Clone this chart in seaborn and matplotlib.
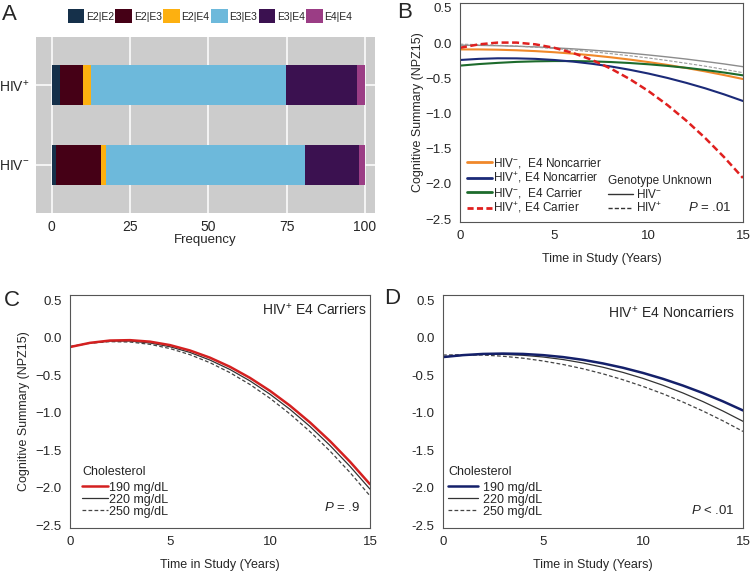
import pandas as pd
import matplotlib.pyplot as plt
import seaborn as sns
from matplotlib.lines import Line2D
from matplotlib.patches import Patch

sns.set_style('white')
plt.rcParams['font.family'] = ['Liberation Sans', 'DejaVu Sans']
plt.rcParams['mathtext.fontset'] = 'custom'
plt.rcParams['mathtext.rm'] = 'Liberation Sans'
plt.rcParams['mathtext.it'] = 'Liberation Sans:italic'
plt.rcParams['mathtext.bf'] = 'Liberation Sans:bold'

# ---- Panel A: genotype frequencies ----
groups = ['HIV$^{+}$', 'HIV$^{-}$']
genotypes = ['E2|E2', 'E2|E3', 'E2|E4', 'E3|E3', 'E3|E4', 'E4|E4']
freq_hiv_pos = [2.7, 7.3, 2.7, 62.1, 22.5, 2.7]
freq_hiv_neg = [1.4, 14.2, 1.6, 63.5, 17.3, 2.0]
geno_colors = ['#15304a', '#450016', '#fdb010', '#6db9db', '#3b1150', '#9b3d85']

# ---- Panel B: trajectories by HIV / E4 status ----
years = list(range(16))
b_neg_noncarrier = [-0.090, -0.090, -0.094, -0.102, -0.114, -0.130, -0.150, -0.174,
                    -0.202, -0.234, -0.270, -0.310, -0.354, -0.402, -0.454, -0.510]
b_pos_noncarrier = [-0.240, -0.224, -0.216, -0.217, -0.224, -0.240, -0.263, -0.294,
                    -0.332, -0.379, -0.433, -0.495, -0.565, -0.642, -0.728, -0.822]
b_neg_carrier = [-0.320, -0.298, -0.281, -0.267, -0.259, -0.255, -0.255, -0.260,
                 -0.269, -0.283, -0.301, -0.324, -0.351, -0.382, -0.418, -0.458]
b_pos_carrier = [-0.067, -0.018, 0.007, 0.007, -0.018, -0.067, -0.141, -0.239,
                 -0.363, -0.511, -0.683, -0.880, -1.102, -1.348, -1.619, -1.915]
b_unknown_neg = [-0.030, -0.032, -0.037, -0.045, -0.054, -0.067, -0.082, -0.100,
                 -0.120, -0.143, -0.169, -0.197, -0.227, -0.261, -0.296, -0.335]
b_unknown_pos = [-0.015, -0.022, -0.031, -0.043, -0.059, -0.077, -0.099, -0.123,
                 -0.150, -0.180, -0.212, -0.248, -0.287, -0.328, -0.373, -0.420]

# ---- Panel C: HIV+ E4 carriers by cholesterol ----
c_chol190 = [-0.123, -0.067, -0.036, -0.031, -0.051, -0.097, -0.169, -0.265,
             -0.387, -0.535, -0.708, -0.906, -1.130, -1.379, -1.654, -1.955]
c_chol220 = [-0.119, -0.069, -0.043, -0.043, -0.069, -0.119, -0.195, -0.297,
             -0.423, -0.575, -0.753, -0.955, -1.183, -1.437, -1.716, -2.020]
c_chol250 = [-0.118, -0.072, -0.051, -0.056, -0.087, -0.143, -0.225, -0.332,
             -0.465, -0.623, -0.807, -1.017, -1.252, -1.512, -1.798, -2.110]

# ---- Panel D: HIV+ E4 noncarriers by cholesterol ----
d_chol190 = [-0.257, -0.231, -0.215, -0.210, -0.215, -0.231, -0.257, -0.294,
             -0.342, -0.400, -0.469, -0.548, -0.638, -0.738, -0.849, -0.970]
d_chol220 = [-0.256, -0.233, -0.221, -0.221, -0.233, -0.256, -0.290, -0.336,
             -0.393, -0.462, -0.542, -0.634, -0.737, -0.852, -0.978, -1.115]
d_chol250 = [-0.230, -0.225, -0.230, -0.246, -0.272, -0.309, -0.356, -0.413,
             -0.481, -0.560, -0.649, -0.748, -0.858, -0.978, -1.109, -1.250]

chol_labels = ['190 mg/dL', '220 mg/dL', '250 mg/dL']
y_ticks = [0.5, 0.0, -0.5, -1.0, -1.5, -2.0, -2.5]
y_labels_minus = ['0.5', '0.0', '\u22120.5', '\u22121.0', '\u22121.5', '\u22122.0', '\u22122.5']
y_labels_hyphen = ['0.5', '0.0', '-0.5', '-1.0', '-1.5', '-2.0', '-2.5']
x_ticks = [0, 5, 10, 15]

fig = plt.figure(figsize=(7.5, 5.75), dpi=100)
axA = fig.add_axes([0.048, 0.6296, 0.452, 0.306])
axB = fig.add_axes([0.6133, 0.6139, 0.3773, 0.381])
axC = fig.add_axes([0.0933, 0.0817, 0.4, 0.405])
axD = fig.add_axes([0.5907, 0.0817, 0.4, 0.405])

# ---------------- Panel A ----------------
rows = []
for g, vals in zip(groups, [freq_hiv_pos, freq_hiv_neg]):
    cum = 0
    for geno, v in zip(genotypes, vals):
        cum += v
        rows.append({'group': g, 'genotype': geno, 'cum': cum})
dfA = pd.DataFrame(rows)

# stacked bars: draw cumulative totals from the outermost segment inwards
for geno, col in reversed(list(zip(genotypes, geno_colors))):
    sub = dfA[dfA['genotype'] == geno]
    sns.barplot(data=sub, x='cum', y='group', order=groups, color=col,
                saturation=1, width=0.5, linewidth=0, ax=axA)

axA.set_facecolor('#cccccc')
axA.set_xlim(-5.0, 103.2)
axA.set_ylim(1.6, -0.6)
axA.set_xticks([0, 25, 50, 75, 100])
axA.grid(True, color='white', lw=1.1)
axA.set_axisbelow(True)
for s in axA.spines.values():
    s.set_visible(False)
axA.tick_params(axis='both', length=3, width=0.8, color='#555555', labelsize=10, pad=2)
axA.set_xlabel('Frequency', fontsize=9.5, labelpad=0)
axA.set_ylabel('')

handlesA = [Patch(facecolor=c, edgecolor='none', label=g) for g, c in zip(genotypes, geno_colors)]
fig.legend(handles=handlesA, loc='center', bbox_to_anchor=(0.28, 0.972), ncol=6,
           frameon=False, fontsize=7.5, handlelength=1.6, handleheight=1.6,
           handletextpad=0.15, columnspacing=0.15, borderpad=0)


def style_line_axes(ax, ylabels):
    ax.set_xlim(0, 15)
    ax.set_ylim(-2.54, 0.57)
    ax.set_xticks(x_ticks)
    ax.set_yticks(y_ticks)
    ax.set_yticklabels(ylabels)
    for s in ax.spines.values():
        s.set_color('#555555')
        s.set_linewidth(0.8)
    ax.tick_params(axis='both', direction='out', length=3, width=0.8,
                   color='#555555', labelsize=9.5, pad=3)
    ax.set_xlabel('Time in Study (Years)', fontsize=9, labelpad=8)


def draw(ax, y, color, lw, dashes=None):
    sns.lineplot(x=years, y=y, color=color, lw=lw, ax=ax, legend=False)
    line = ax.lines[-1]
    if dashes is not None:
        line.set_dashes(dashes)
    return line


def chol_legend(ax, main_color, x0, textpad, hlen):
    hs = [Line2D([], [], color=main_color, lw=1.8, label=chol_labels[0]),
          Line2D([], [], color='#333333', lw=0.9, label=chol_labels[1]),
          Line2D([], [], color='#444444', lw=0.9, dashes=(3, 1.8), label=chol_labels[2])]
    ax.legend(handles=hs, loc='lower left', bbox_to_anchor=(x0, 0.045), frameon=False,
              fontsize=9, handlelength=hlen, handletextpad=textpad, labelspacing=0.0,
              borderpad=0, borderaxespad=0)
    ax.text(x0, 0.24, 'Cholesterol', transform=ax.transAxes, ha='left', va='center',
            fontsize=9)


# ---------------- Panel B ----------------
draw(axB, b_unknown_neg, '#8c8c8c', 1.0)
draw(axB, b_unknown_pos, '#9a9a9a', 0.8, (3, 1.5))
draw(axB, b_neg_noncarrier, '#f0882a', 1.5)
draw(axB, b_neg_carrier, '#1d6b2c', 1.5)
draw(axB, b_pos_noncarrier, '#1b2a78', 1.5)
draw(axB, b_pos_carrier, '#e0201f', 1.8, (2.8, 1.4))
style_line_axes(axB, y_labels_minus)
axB.set_ylabel('Cognitive Summary (NPZ15)', fontsize=9, labelpad=1)

hB1 = [Line2D([], [], color='#f0882a', lw=2, label='HIV$^{-}$,  E4 Noncarrier'),
       Line2D([], [], color='#1b2a78', lw=2, label='HIV$^{+}$, E4 Noncarrier'),
       Line2D([], [], color='#1d6b2c', lw=2, label='HIV$^{-}$,  E4 Carrier'),
       Line2D([], [], color='#e0201f', lw=2, dashes=(2.2, 1.2), label='HIV$^{+}$, E4 Carrier')]
legB1 = axB.legend(handles=hB1, loc='lower left', bbox_to_anchor=(0.025, 0.03),
                   frameon=False, fontsize=8.5, handlelength=2.1, handletextpad=0.1,
                   labelspacing=0.05, borderpad=0, borderaxespad=0)
axB.add_artist(legB1)
hB2 = [Line2D([], [], color='#333333', lw=1.0, label='HIV$^{-}$'),
       Line2D([], [], color='#333333', lw=1.0, dashes=(3, 1.5), label='HIV$^{+}$')]
axB.legend(handles=hB2, title='Genotype Unknown', title_fontsize=8.5, alignment='left',
           loc='lower left', bbox_to_anchor=(0.523, 0.03), frameon=False, fontsize=8.5,
           handlelength=2.1, handletextpad=0.3, labelspacing=0.05, borderpad=0,
           borderaxespad=0)
axB.text(0.961, 0.068, '$\\it{P}$ = .01', transform=axB.transAxes, ha='right',
         va='center', fontsize=9.5)

# ---------------- Panel C ----------------
draw(axC, c_chol250, '#444444', 0.9, (3, 1.8))
draw(axC, c_chol220, '#333333', 0.9)
draw(axC, c_chol190, '#d42020', 1.8)
style_line_axes(axC, y_labels_minus)
axC.set_ylabel('Cognitive Summary (NPZ15)', fontsize=9, labelpad=4)
chol_legend(axC, '#d42020', 0.04, 0.05, 2.1)
axC.text(0.99, 0.94, 'HIV$^{+}$ E4 Carriers', transform=axC.transAxes, ha='right',
         va='center', fontsize=10)
axC.text(0.967, 0.086, '$\\it{P}$ = .9', transform=axC.transAxes, ha='right',
         va='center', fontsize=9.5)

# ---------------- Panel D ----------------
draw(axD, d_chol250, '#444444', 0.9, (3, 1.8))
draw(axD, d_chol220, '#333333', 0.9)
draw(axD, d_chol190, '#14206a', 1.8)
style_line_axes(axD, y_labels_hyphen)
axD.set_ylabel('')
chol_legend(axD, '#14206a', 0.017, 0.4, 2.4)
axD.text(0.973, 0.927, 'HIV$^{+}$ E4 Noncarriers', transform=axD.transAxes, ha='right',
         va='center', fontsize=10)
axD.text(0.973, 0.077, '$\\it{P}$ < .01', transform=axD.transAxes, ha='right',
         va='center', fontsize=9.5)

# panel letters
for letter, x, y in [('A', 0.013, 0.975), ('B', 0.54, 0.978), ('C', 0.016, 0.478), ('D', 0.523, 0.481)]:
    fig.text(x, y, letter, fontsize=16, ha='center', va='center')

fig.savefig('out.png', dpi=100)
plt.close(fig)
